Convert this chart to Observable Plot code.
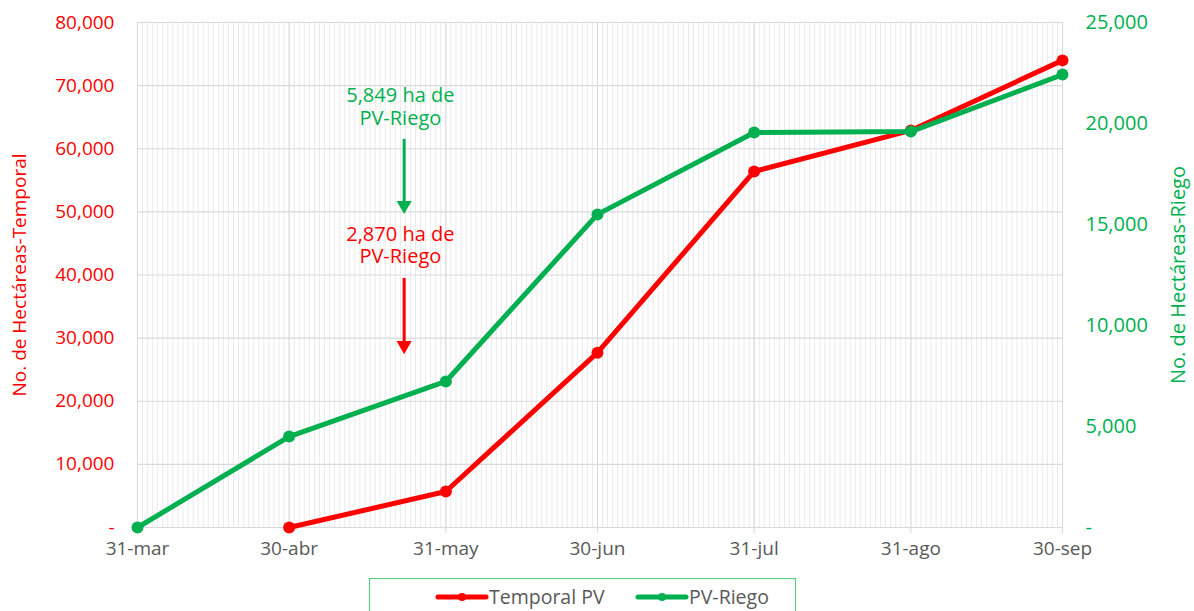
<!DOCTYPE html>
<html><head><meta charset="utf-8">
<script src="https://cdn.jsdelivr.net/npm/d3@7"></script>
<script src="https://cdn.jsdelivr.net/npm/@observablehq/plot@0.6"></script>
<style>
body{margin:0;background:#fff;font-family:"Open Sans",sans-serif;}
#chart svg{display:block;}
#legend{display:block;margin-top:8px;}
</style></head><body>
<div id="chart"></div>
<svg id="legend" width="1194" height="33"></svg>
<script>
const dates = ["2023-03-31","2023-04-30","2023-05-31","2023-06-30","2023-07-31","2023-08-31","2023-09-30"];
const tickLabels = ["31-mar","30-abr","31-may","30-jun","31-jul","31-ago","30-sep"];
const temporalPV = [null, 0, 5700, 27700, 56400, 62900, 74000];
const pvRiego = [0, 4500, 7230, 15500, 19550, 19600, 22420];
const leftTicks = [0,10000,20000,30000,40000,50000,60000,70000,80000];
const rightTicks = [0,5000,10000,15000,20000,25000];
const seriesNames = ["Temporal PV","PV-Riego"];
const annotations = [
  {text:"5,849 ha de\nPV-Riego", date:"2023-05-22", value:66720, from:61490, to:51030, color:"#00b050"},
  {text:"2,870 ha de\nPV-Riego", date:"2023-05-22", value:44770, from:39460, to:28840, color:"#ff0000"}
];

const RED = "#ff0000", GREEN = "#00b050", GREY = "#595959";
const k = 80000/25000;
const parse = d3.utcParse("%Y-%m-%d");
const X = dates.map(parse);
const tempData = X.map((d,i)=>({date:d, v:temporalPV[i]})).filter(d=>d.v!=null);
const riegoData = X.map((d,i)=>({date:d, v:pvRiego[i]}));
const days = d3.utcDay.range(X[0], d3.utcDay.offset(X[X.length-1],1));
const fmt = v => v===0 ? "-" : d3.format(",")(v);
const ann = annotations.map(a=>({...a, d:parse(a.date), d2:d3.utcHour.offset(parse(a.date),18)}));

const plot = Plot.plot({
  width:1194, height:570,
  marginLeft:137, marginRight:132, marginTop:22, marginBottom:43,
  style:{fontFamily:'"Open Sans", sans-serif', fontSize:"20px", background:"#fff"},
  x:{type:"utc", domain:[X[0], X[X.length-1]]},
  y:{domain:[0,80000]},
  marks:[
    Plot.ruleX(days, {x:d=>d, stroke:"#eaeaea", strokeWidth:1}),
    Plot.ruleX(X, {x:d=>d, stroke:"#d9d9d9", strokeWidth:1}),
    Plot.ruleY(leftTicks, {y:d=>d, stroke:"#d9d9d9", strokeWidth:1.2}),
    Plot.axisX({ticks:X, tickFormat:(d)=>tickLabels[X.findIndex(x=>+x===+d)], tickSize:6, tickPadding:8, stroke:"#d9d9d9", fill:GREY, fontSize:19, label:null}),
    Plot.axisY({anchor:"left", ticks:leftTicks, tickFormat:fmt, tickSize:0, tickPadding:23, fill:RED, fontSize:20,
      label:"No. de Hectáreas-Temporal", labelAnchor:"center", labelArrow:"none", labelOffset:125, fontSize:19}),
    Plot.axisY({anchor:"right", ticks:rightTicks.map(v=>v*k), tickFormat:d=>fmt(Math.round(d/k)), tickSize:0, tickPadding:23, fill:GREEN, fontSize:20,
      label:"No. de Hectáreas-Riego", labelAnchor:"center", labelArrow:"none", labelOffset:122}),
    Plot.line(tempData, {x:"date", y:"v", stroke:RED, strokeWidth:5}),
    Plot.dot(tempData, {x:"date", y:"v", fill:RED, r:6}),
    Plot.line(riegoData, {x:"date", y:d=>d.v*k, stroke:GREEN, strokeWidth:5}),
    Plot.dot(riegoData, {x:"date", y:d=>d.v*k, fill:GREEN, r:6}),
    Plot.text(ann, {x:"d", y:"value", text:"text", fill:d=>d.color, fontSize:20, lineHeight:1.12, lineAnchor:"middle"}),
    Plot.ruleX(ann, {x:"d2", y1:"from", y2:"to", stroke:d=>d.color, strokeWidth:3}),
    Plot.dot(ann, {x:"d2", y:"to", symbol:"triangle", rotate:180, r:5.6, fill:d=>d.color, stroke:"none"})
  ]
});
document.getElementById("chart").appendChild(plot);

// legend
const lg = d3.select("#legend");
lg.append("rect").attr("x",369.5).attr("y",0.5).attr("width",426).attr("height",40).attr("fill","none").attr("stroke","#5cc985").attr("stroke-width",1.2);
const items = [{x:438, color:RED, name:seriesNames[0]},{x:638, color:GREEN, name:seriesNames[1]}];
items.forEach(it=>{
  lg.append("line").attr("x1",it.x).attr("x2",it.x+48).attr("y1",19).attr("y2",19).attr("stroke",it.color).attr("stroke-width",5).attr("stroke-linecap","round");
  lg.append("circle").attr("cx",it.x+24).attr("cy",19).attr("r",4).attr("fill",it.color);
  lg.append("text").attr("x",it.x+51).attr("y",19).attr("dy","0.35em").attr("fill",GREY).attr("font-size",19.5).attr("font-family",'"Open Sans", sans-serif').text(it.name);
});
</script>
</body></html>
